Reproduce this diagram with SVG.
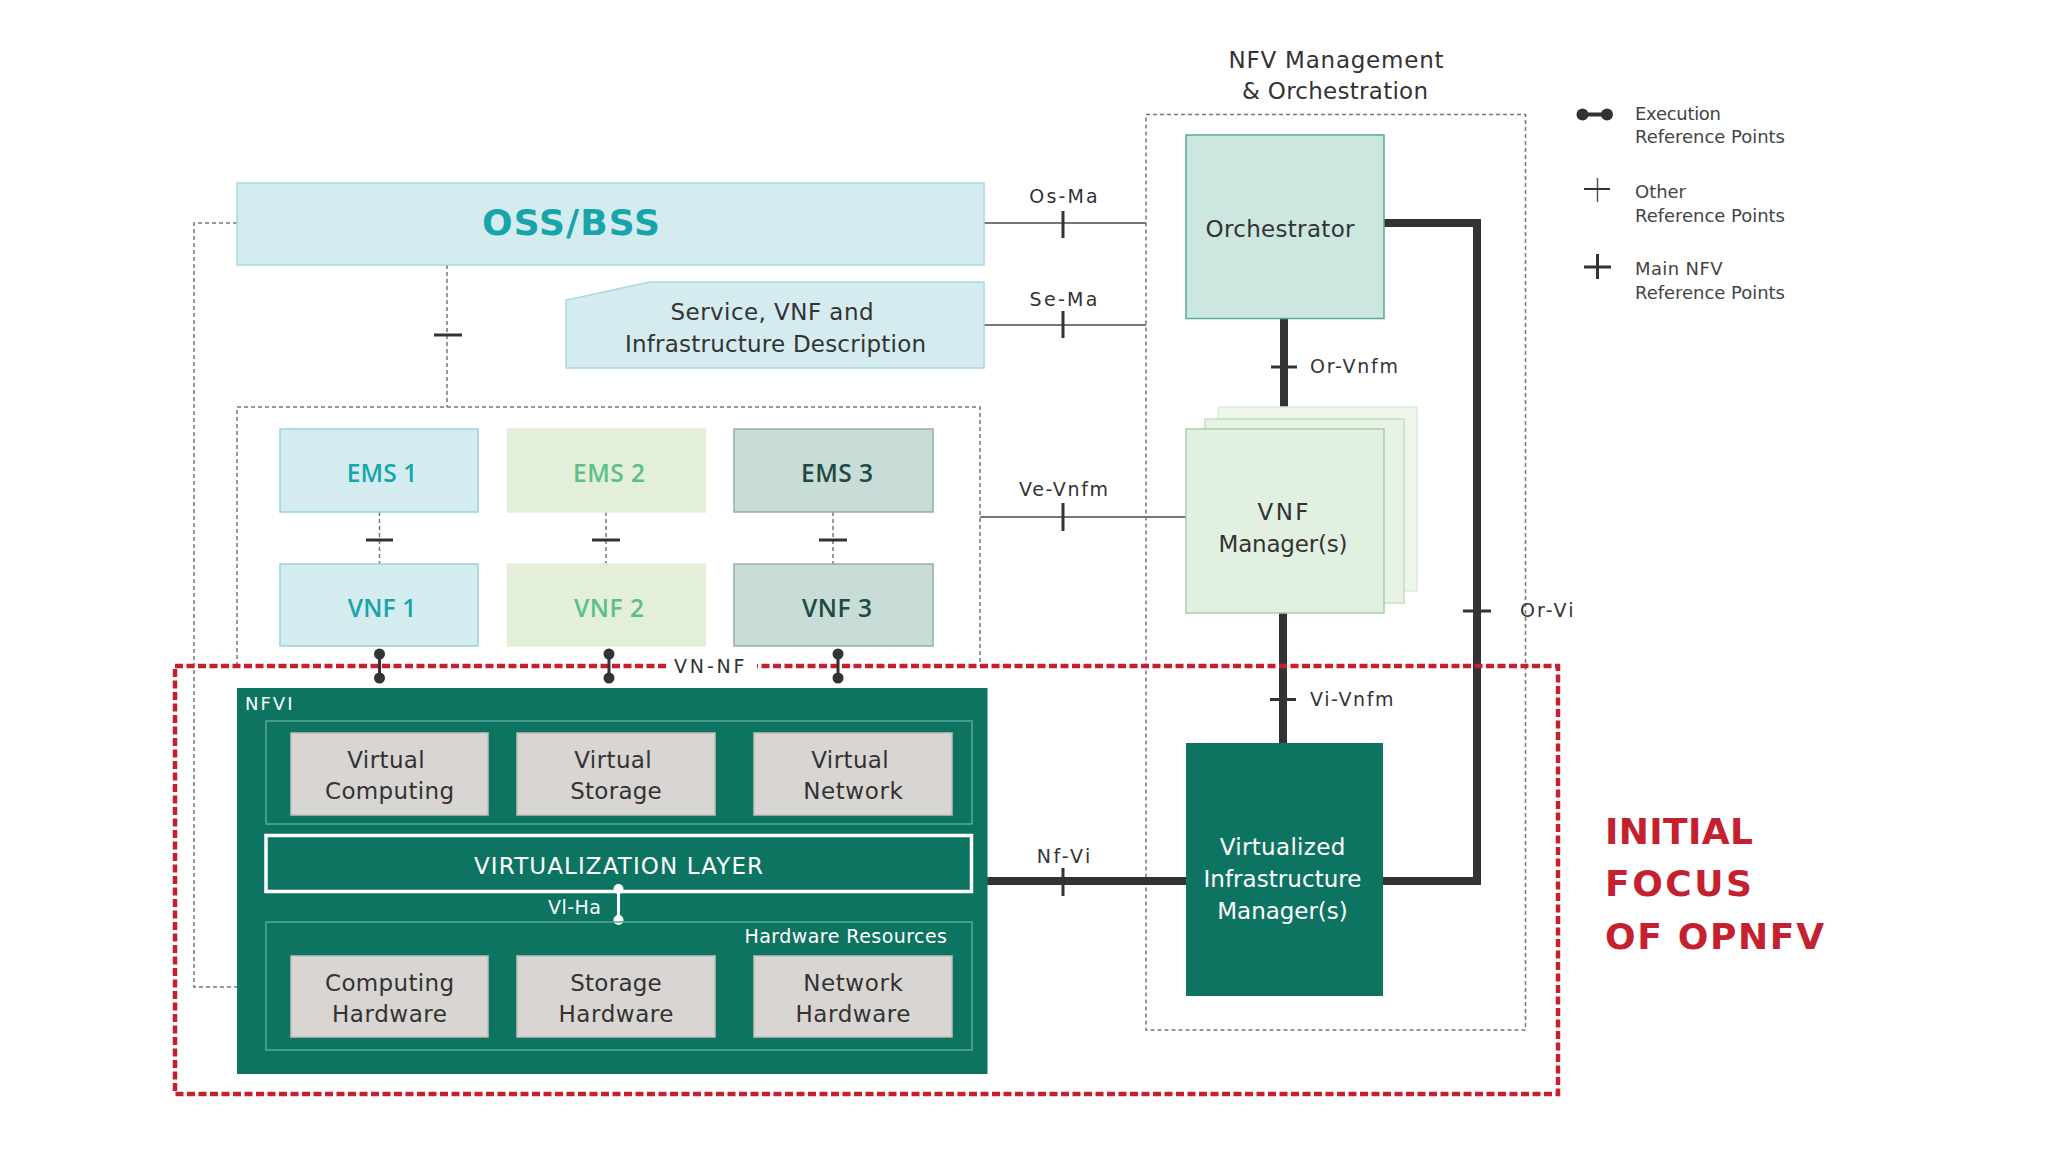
<svg xmlns="http://www.w3.org/2000/svg" width="2048" height="1152" viewBox="0 0 2048 1152">
<defs>
<style>
text{font-family:"DejaVu Sans","Liberation Sans",sans-serif;fill:#333;}
.c{text-anchor:middle;}
.lbl{font-size:19px;}
.leg{font-size:18px;fill:#444;}
.box23{font-size:23px;}
.ems{font-family:"Open Sans","DejaVu Sans",sans-serif;font-size:24.5px;font-weight:600;}
.wt{fill:#fff;}
.red{font-size:36px;font-weight:bold;fill:#c4202f;}
.thin{stroke:#777;stroke-width:2;fill:none;}
.thick{stroke:#333;stroke-width:8;fill:none;}
.tick{stroke:#333;stroke-width:3;}
.dash{stroke:#777;stroke-width:1.5;stroke-dasharray:4 3;fill:none;}
.gray{fill:#d8d5d2;stroke:#c2bfbb;stroke-width:1.5;}
.dot{fill:#333;}
</style>
</defs>
<rect width="2048" height="1152" fill="#fff"/>

<!-- Containers -->
<g id="mano-container">
<rect x="1146" y="114.5" width="379.5" height="915.5" class="dash"/>
<text x="1336" y="68" class="c box23" textLength="215">NFV Management</text>
<text x="1335" y="99" class="c box23" textLength="186">&amp; Orchestration</text>
</g>
<g id="vnf-group">
<path d="M237 666 V407 H980 V666" class="dash"/>
</g>

<!-- Connectors -->
<g id="connectors">
<path d="M237 223 H194 V987 H237" class="dash"/>
<path d="M237 987 H266" stroke="#6fb5a8" stroke-width="2"/>
<path d="M447 265 V407" class="dash"/>
<line x1="434" y1="335" x2="462" y2="335" class="tick"/>
<path d="M379.5 512 V564 M606 512 V564 M833 512 V564" class="dash"/>
<path d="M366 540 H393 M592 540 H620 M819 540 H847" class="tick"/>
<line x1="984" y1="223" x2="1146" y2="223" class="thin"/>
<line x1="1063" y1="211" x2="1063" y2="238" class="tick"/>
<line x1="984" y1="325" x2="1146" y2="325" class="thin"/>
<line x1="1063" y1="311" x2="1063" y2="338" class="tick"/>
<line x1="980" y1="517" x2="1186" y2="517" class="thin"/>
<line x1="1063" y1="503" x2="1063" y2="531" class="tick"/>
<path d="M1384 223 H1477 V881 H1383" class="thick"/>
<line x1="1463" y1="611" x2="1491" y2="611" class="tick"/>
<line x1="1284" y1="318" x2="1284" y2="407" class="thick"/>
<line x1="1271" y1="367" x2="1297" y2="367" class="tick"/>
<line x1="1283" y1="613" x2="1283" y2="743" class="thick"/>
<line x1="1270" y1="699.5" x2="1296" y2="699.5" class="tick"/>
<line x1="987" y1="881" x2="1186" y2="881" class="thick"/>
<line x1="1063" y1="868" x2="1063" y2="896" class="tick"/>
<text x="1063.5" y="203" class="c lbl" textLength="68.5">Os-Ma</text>
<text x="1063.5" y="306" class="c lbl" textLength="68">Se-Ma</text>
<text x="1063.5" y="496" class="c lbl" textLength="89">Ve-Vnfm</text>
<text x="1310" y="373" class="lbl" textLength="88">Or-Vnfm</text>
<text x="1310" y="706" class="lbl" textLength="83.5">Vi-Vnfm</text>
<text x="1520" y="617" class="lbl" textLength="53.5">Or-Vi</text>
<text x="1063.5" y="863" class="c lbl" textLength="53.5">Nf-Vi</text>
</g>

<!-- OPNFV focus -->
<g id="opnfv-focus">
<rect x="175" y="666" width="1383" height="428" fill="none" stroke="#c4202f" stroke-width="4.5" stroke-dasharray="8 3.5"/>
<rect x="667" y="654" width="90" height="26" fill="#fff"/>
<text x="709.3" y="673" class="c lbl" textLength="70.5">VN-NF</text>
<text x="1605" y="844" class="red" textLength="148">INITIAL</text>
<text x="1605" y="896" class="red" textLength="147">FOCUS</text>
<text x="1605" y="949" class="red" textLength="219">OF OPNFV</text>
</g>

<!-- VN-NF execution points -->
<g id="vn-nf-points">
<path d="M379.5 654 V678 M609 654 V678 M838 654 V678" stroke="#333" stroke-width="3"/>
<circle cx="379.5" cy="654" r="5.5" class="dot"/><circle cx="379.5" cy="678" r="5.5" class="dot"/>
<circle cx="609" cy="654" r="5.5" class="dot"/><circle cx="609" cy="678" r="5.5" class="dot"/>
<circle cx="838" cy="654" r="5.5" class="dot"/><circle cx="838" cy="678" r="5.5" class="dot"/>
</g>

<!-- Nodes -->
<g id="oss-bss">
<rect x="237" y="183" width="747" height="82" fill="#d4ecef" stroke="#a6dade" stroke-width="1.5"/>
<text x="571" y="235" class="c" style="font-size:36px;font-weight:bold;fill:#18a4ab" textLength="178">OSS/BSS</text>
</g>
<g id="service-description">
<path d="M650 282 H984 V368 H566 V300 Z" fill="#d4ecef" stroke="#a6dade" stroke-width="1.5"/>
<text x="772" y="320" class="c box23" textLength="203">Service, VNF and</text>
<text x="775.5" y="352" class="c box23" textLength="301">Infrastructure Description</text>
</g>
<g id="ems1">
<rect x="280" y="429" width="198" height="83" fill="#d4ecef" stroke="#95d5dc" stroke-width="1.5"/>
<text x="382" y="482" class="c ems" style="fill:#18a4ab" textLength="70.5">EMS 1</text>
</g>
<g id="ems2">
<rect x="507.5" y="429" width="198" height="83" fill="#e3efd9" stroke="#e3efd9" stroke-width="1.5"/>
<text x="609" y="482" class="c ems" style="fill:#5cbf87" textLength="72">EMS 2</text>
</g>
<g id="ems3">
<rect x="734" y="429" width="199" height="83" fill="#c9ddd8" stroke="#96aea8" stroke-width="1.5"/>
<text x="837" y="482" class="c ems" style="fill:#1f4a42" textLength="72">EMS 3</text>
</g>
<g id="vnf1">
<rect x="280" y="564" width="198" height="82" fill="#d4ecef" stroke="#95d5dc" stroke-width="1.5"/>
<text x="382" y="617" class="c ems" style="fill:#18a4ab" textLength="68.5">VNF 1</text>
</g>
<g id="vnf2">
<rect x="507.5" y="564" width="198" height="82" fill="#e3efd9" stroke="#e3efd9" stroke-width="1.5"/>
<text x="609" y="617" class="c ems" style="fill:#5cbf87" textLength="70">VNF 2</text>
</g>
<g id="vnf3">
<rect x="734" y="564" width="199" height="82" fill="#c9ddd8" stroke="#96aea8" stroke-width="1.5"/>
<text x="837" y="617" class="c ems" style="fill:#1f4a42" textLength="70">VNF 3</text>
</g>

<g id="orchestrator">
<rect x="1186" y="135" width="198" height="183.5" fill="#cce6e0" stroke="#55a997" stroke-width="1.5"/>
<text x="1280" y="237" class="c box23" textLength="149">Orchestrator</text>
</g>
<g id="vnf-manager">
<rect x="1218" y="407" width="199" height="184" fill="#eef6ec" stroke="#dcecd8" stroke-width="1.5"/>
<rect x="1205" y="419" width="199" height="184" fill="#e8f3e6" stroke="#c2dfc0" stroke-width="1.5"/>
<rect x="1186" y="429" width="198" height="184" fill="#e1f0e0" stroke="#a6d0a8" stroke-width="1.5"/>
<text x="1283" y="520" class="c box23" textLength="51">VNF</text>
<text x="1283" y="552" class="c box23" textLength="129">Manager(s)</text>
</g>
<g id="vim">
<rect x="1186" y="743" width="197" height="253" fill="#0e7462"/>
<text x="1282.5" y="855" class="c box23 wt" textLength="125.5">Virtualized</text>
<text x="1282.5" y="887" class="c box23 wt" textLength="158">Infrastructure</text>
<text x="1282.5" y="919" class="c box23 wt" textLength="130.5">Manager(s)</text>
</g>

<g id="nfvi">
<rect x="237" y="688" width="750.5" height="386" fill="#0e7462"/>
<text x="245" y="710" style="font-size:18px;fill:#fff" textLength="47.5">NFVI</text>
<rect x="266" y="721" width="706" height="103" fill="none" stroke="#5aa898" stroke-width="1.5"/>
<g id="virtual-computing">
<rect x="291" y="733" width="197" height="82" class="gray"/>
<text x="386" y="768" class="c box23" textLength="77.5">Virtual</text>
<text x="389.5" y="799" class="c box23" textLength="129">Computing</text>
</g>
<g id="virtual-storage">
<rect x="517" y="733" width="198" height="82" class="gray"/>
<text x="613" y="768" class="c box23" textLength="77.5">Virtual</text>
<text x="616" y="799" class="c box23" textLength="91.5">Storage</text>
</g>
<g id="virtual-network">
<rect x="754" y="733" width="198" height="82" class="gray"/>
<text x="850" y="768" class="c box23" textLength="77.5">Virtual</text>
<text x="853" y="799" class="c box23" textLength="99.5">Network</text>
</g>
<g id="virtualization-layer">
<rect x="266" y="835.5" width="705.5" height="56" fill="#0e7462" stroke="#fff" stroke-width="3.5"/>
<text x="618.5" y="874" class="c box23 wt" textLength="289">VIRTUALIZATION LAYER</text>
</g>
<g id="vl-ha">
<line x1="618.5" y1="889" x2="618.5" y2="920" stroke="#fff" stroke-width="3"/>
<circle cx="618.5" cy="889" r="5" fill="#fff"/><circle cx="618.5" cy="920" r="5" fill="#fff"/>
<text x="601" y="914" style="font-size:19px;fill:#fff;text-anchor:end" textLength="53">Vl-Ha</text>
</g>
<g id="hardware-resources">
<rect x="266" y="922" width="706" height="128" fill="none" stroke="#5aa898" stroke-width="1.5"/>
<text x="947" y="943" style="font-size:19px;fill:#fff;text-anchor:end" textLength="202.5">Hardware Resources</text>
</g>
<g id="computing-hardware">
<rect x="291" y="956" width="197" height="81" class="gray"/>
<text x="389.5" y="991" class="c box23" textLength="129">Computing</text>
<text x="389.5" y="1022" class="c box23" textLength="115">Hardware</text>
</g>
<g id="storage-hardware">
<rect x="517" y="956" width="198" height="81" class="gray"/>
<text x="616" y="991" class="c box23" textLength="91.5">Storage</text>
<text x="616" y="1022" class="c box23" textLength="115">Hardware</text>
</g>
<g id="network-hardware">
<rect x="754" y="956" width="198" height="81" class="gray"/>
<text x="853" y="991" class="c box23" textLength="99.5">Network</text>
<text x="853" y="1022" class="c box23" textLength="115">Hardware</text>
</g>
</g>

<!-- Legend -->
<g id="legend">
<line x1="1582.5" y1="114.5" x2="1607" y2="114.5" stroke="#333" stroke-width="4"/>
<circle cx="1582.5" cy="114.5" r="6" class="dot"/><circle cx="1607" cy="114.5" r="6" class="dot"/>
<text x="1635" y="120" class="leg" textLength="86">Execution</text>
<text x="1635" y="143" class="leg" textLength="150">Reference Points</text>
<line x1="1597.5" y1="178" x2="1597.5" y2="202" stroke="#555" stroke-width="1.5"/>
<line x1="1584" y1="189" x2="1610" y2="189" stroke="#333" stroke-width="2"/>
<text x="1635" y="198" class="leg" textLength="51">Other</text>
<text x="1635" y="222" class="leg" textLength="150">Reference Points</text>
<line x1="1597.5" y1="254" x2="1597.5" y2="279" stroke="#333" stroke-width="3"/>
<line x1="1584" y1="267" x2="1611" y2="267" stroke="#333" stroke-width="3"/>
<text x="1635" y="275" class="leg" textLength="87.5">Main NFV</text>
<text x="1635" y="299" class="leg" textLength="150">Reference Points</text>
</g>
</svg>
